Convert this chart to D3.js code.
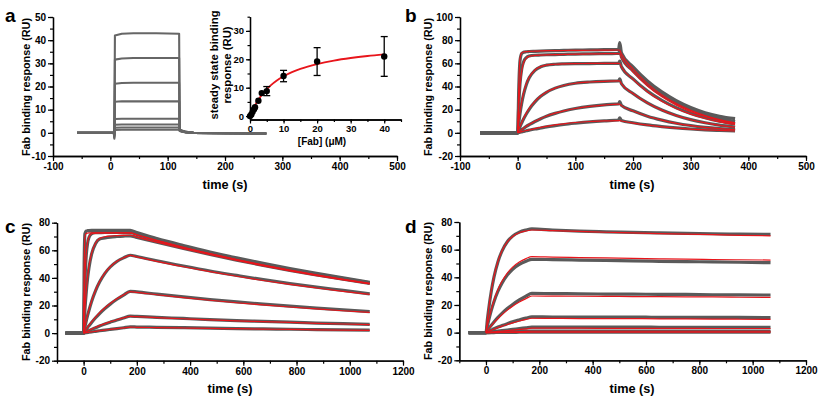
<!DOCTYPE html>
<html>
<head>
<meta charset="utf-8">
<script src="https://cdn.jsdelivr.net/npm/d3@7"></script>
<style>
  body { margin: 0; background: #fff; }
  svg { display: block; font-family: 'Liberation Sans', Arial, sans-serif; }
</style>
</head>
<body>
<svg id="chart" width="823" height="399"></svg>
<script>
'use strict';

// ---- panel a: sensorgrams (time in s, response in RU)
const aTime = [-58, 6, 7, 8, 20, 40, 80, 120, 121, 125, 132, 145, 200, 272];
const aTraces = [
    [0, 0, -2.5, 42, 42.8, 43, 43, 42.8, 1.5, 1, 0.4, 0, -0.2, -0.3],
    [0, 0, -2, 31.6, 32.1, 32.3, 32.3, 32.3, 1.4, 0.9, 0.4, 0, -0.2, -0.3],
    [0, 0, -1.6, 21.2, 21.5, 21.6, 21.6, 21.6, 1.3, 0.9, 0.4, 0, -0.2, -0.3],
    [0, 0, -1.3, 13.4, 13.6, 13.6, 13.6, 13.6, 1.2, 0.8, 0.3, 0, -0.2, -0.3],
    [0, 0, -1, 6, 6.1, 6.1, 6.1, 6.1, 1.1, 0.7, 0.3, 0, -0.2, -0.3],
    [0, 0, -0.8, 3.5, 3.6, 3.6, 3.6, 3.6, 1, 0.6, 0.3, 0, -0.2, -0.3],
    [0, 0, -0.6, 2.2, 2.3, 2.3, 2.3, 2.3, 0.9, 0.6, 0.2, 0, -0.2, -0.3],
    [0, 0, -0.5, 1.2, 1.3, 1.3, 1.3, 1.3, 0.8, 0.5, 0.2, 0, -0.2, -0.3]
];

// inset of a: steady state binding vs [Fab]
const insetConc = [0, 0.4, 0.8, 1.2, 1.5, 2.5, 3.5, 5, 10, 20, 40];
const insetResp = [0, 0.6, 1.5, 2.4, 3.1, 5.4, 8.1, 8.8, 14.1, 19.2, 21];
const insetErr = [0.2, 0.3, 0.3, 0.4, 0.5, 0.4, 0.4, 1.6, 2, 4.9, 7];
const insetFitConc = [0, 1, 2, 3, 4, 5, 6, 8, 10, 12.5, 15, 20, 25, 30, 35, 40];
const insetFitResp = [0, 2.66, 4.84, 6.65, 8.18, 9.5, 10.64, 12.52, 14, 15.47, 16.63, 18.34, 19.56, 20.46, 21.16, 21.72];

// ---- panel b
const bTime = [-65, 0, 2, 4, 7, 10, 15, 20, 30, 40, 50, 65, 80, 100, 125, 150, 175, 177, 180, 200, 225, 250, 275, 300, 325, 350, 377];
const bData = [
    [0, 0, 40, 62, 68.5, 69.5, 70, 70.2, 70.4, 70.6, 70.8, 71, 71.2, 71.4, 71.6, 71.8, 72, 78, 69, 57, 44.8, 35.3, 27.8, 21.9, 17.4, 14.3, 12.2],
    [0, 0, 26, 42, 55, 61, 65, 66.3, 67, 67.2, 67.4, 67.6, 67.8, 68, 68.2, 68.4, 68.5, 71, 65.3, 53.5, 41.8, 32.8, 25.8, 20.2, 15.8, 12.5, 9.8],
    [0, 0, 8.8, 16.3, 25.5, 32.8, 41.6, 47.5, 54, 57, 58.4, 59.2, 59.5, 59.7, 59.8, 59.9, 60, 62, 57, 46.5, 36, 28, 21.7, 16.8, 13, 10, 7.7],
    [0, 0, 2.6, 5.1, 8.5, 11.7, 16.3, 20.3, 26.7, 31.5, 35, 38.6, 40.9, 42.8, 43.9, 44.5, 44.8, 46.5, 42.4, 34, 25.9, 19.7, 15, 11.4, 8.7, 6.6, 5],
    [0, 0, 0.8, 1.6, 2.7, 3.8, 5.5, 7, 9.8, 12.2, 14.3, 16.8, 18.9, 21, 22.9, 24.2, 25, 27, 23.7, 19, 14.4, 11, 8.3, 6.3, 4.8, 3.7, 2.8],
    [0, 0, 0.25, 0.5, 0.85, 1.2, 1.8, 2.3, 3.3, 4.2, 5.1, 6.2, 7.2, 8.3, 9.5, 10.4, 11.1, 13, 10.6, 8.7, 6.8, 5.4, 4.2, 3.3, 2.6, 2.1, 1.7]
];
const bFit = [
    [null, 0, 42, 64, 69, 69.8, 70.1, 70.3, 70.5, 70.7, 70.9, 71, 71.1, 71.2, 71.3, 71.4, 71.5, 71.2, 68, 55.2, 42.5, 32.7, 25.2, 19.4, 14.9, 11.4, 8.6],
    [null, 0, 24, 40, 53.5, 60, 64.5, 66, 66.8, 67.1, 67.3, 67.5, 67.7, 67.9, 68.1, 68.3, 68.4, 68.1, 64.9, 52.6, 40.5, 31.1, 23.9, 18.3, 14.1, 10.8, 8.1],
    [null, 0, 9.5, 17.5, 27, 34, 42.5, 48, 54.3, 57.2, 58.5, 59.2, 59.6, 59.8, 59.9, 60, 60, 59.8, 56.9, 46.1, 35.5, 27.3, 21, 16.1, 12.4, 9.5, 7.2],
    [null, 0, 2.8, 5.4, 9, 12.3, 17, 21, 27.2, 31.8, 35.2, 38.6, 40.9, 42.8, 43.9, 44.5, 44.8, 44.6, 42.3, 33.9, 25.8, 19.6, 14.9, 11.3, 8.6, 6.5, 4.9],
    [null, 0, 0.8, 1.6, 2.7, 3.9, 5.6, 7.2, 10, 12.4, 14.5, 17, 19, 21, 22.8, 24, 24.8, 24.7, 23.5, 18.9, 14.3, 10.9, 8.2, 6.2, 4.7, 3.6, 2.7],
    [null, 0, 0.3, 0.6, 1, 1.4, 2, 2.6, 3.7, 4.7, 5.6, 6.8, 7.8, 8.9, 9.8, 10.3, 10.6, 10.5, 10.2, 8.4, 6.6, 5.2, 4.1, 3.2, 2.6, 2.1, 1.6]
];

// ---- panel c
const cTime = [-68, 0, 2, 5, 10, 15, 20, 30, 45, 60, 80, 100, 125, 150, 175, 200, 275, 375, 475, 575, 675, 775, 875, 975, 1075];
const cData = [
    [0, 0, 50, 72, 74, 74.2, 74.3, 74.4, 74.4, 74.5, 74.5, 74.5, 74.5, 74.5, 74.5, 72.8, 68.5, 63.5, 58.8, 54.5, 50.5, 46.8, 43.3, 40, 36.8],
    [0, 0, 18.9, 38.4, 56.6, 65.2, 69.2, 72, 72.7, 72.8, 72.9, 73, 73, 73, 73, 71.5, 67.5, 62.6, 58, 53.8, 49.8, 46.1, 42.7, 39.5, 36.4],
    [0, 0, 7.4, 17, 29.9, 39.8, 47.2, 57.2, 64.9, 68.2, 69, 69.6, 70, 70.3, 70.5, 69.3, 65.8, 61.3, 57, 52.9, 49.1, 45.5, 42.2, 39, 36],
    [0, 0, 1.9, 4.6, 8.9, 12.8, 16.4, 22.9, 30.8, 37, 43.3, 47.9, 51.9, 54.5, 56.4, 55.5, 52.4, 48.6, 45, 41.8, 38.7, 35.9, 33.3, 30.9, 28.4],
    [0, 0, 0.6, 1.4, 2.7, 4.1, 5.3, 7.7, 11.1, 14.2, 17.8, 21, 24.5, 27.5, 30.3, 29.9, 28.2, 26.2, 24.3, 22.6, 21, 19.5, 18.1, 16.8, 15.6],
    [0, 0, 0.2, 0.5, 0.9, 1.4, 1.8, 2.7, 3.9, 5.1, 6.6, 7.9, 9.5, 10.9, 12.3, 12.1, 11.4, 10.6, 9.8, 9.1, 8.5, 7.9, 7.3, 6.8, 6.3],
    [0, 0, 0.05, 0.15, 0.3, 0.45, 0.6, 0.9, 1.3, 1.7, 2.2, 2.7, 3.3, 3.9, 4.5, 4.4, 4.2, 3.9, 3.6, 3.3, 3, 2.8, 2.5, 2.3, 2.1]
];
const cFit = [
    [null, 0, 45, 70, 72.3, 72.5, 72.6, 72.6, 72.6, 72.6, 72.6, 72.6, 72.6, 72.6, 72.6, 71.2, 67.2, 62.2, 57.6, 53.3, 49.3, 45.6, 42.2, 39, 36],
    [null, 0, 20, 40, 58, 66, 69.8, 72, 72.5, 72.6, 72.6, 72.6, 72.6, 72.6, 72.6, 71.1, 67, 62, 57.5, 53.2, 49.2, 45.5, 42.1, 38.9, 35.9],
    [null, 0, 7.8, 17.8, 31, 41, 48.3, 58, 65.3, 68.5, 69.8, 70.3, 70.6, 70.8, 70.9, 69.6, 65.9, 61.2, 56.8, 52.6, 48.7, 45.1, 41.7, 38.6, 35.6],
    [null, 0, 2, 4.8, 9.2, 13.2, 16.8, 23.3, 31.2, 37.4, 43.6, 48.1, 52, 54.6, 56.3, 55.2, 52, 48.1, 44.5, 41.2, 38.1, 35.3, 32.7, 30.2, 28],
    [null, 0, 0.6, 1.5, 2.9, 4.3, 5.6, 8.1, 11.6, 14.8, 18.4, 21.5, 24.9, 27.7, 30, 29.5, 27.8, 25.7, 23.8, 22, 20.4, 18.9, 17.5, 16.2, 15],
    [null, 0, 0.2, 0.5, 1, 1.5, 2, 2.9, 4.2, 5.4, 6.9, 8.2, 9.7, 11, 12.1, 11.9, 11.2, 10.4, 9.6, 8.9, 8.3, 7.7, 7.1, 6.6, 6.1],
    [null, 0, 0.05, 0.15, 0.3, 0.45, 0.6, 0.9, 1.3, 1.7, 2.2, 2.7, 3.3, 3.8, 4.3, 4.2, 4, 3.7, 3.4, 3.2, 2.9, 2.7, 2.4, 2.2, 2]
];

// ---- panel d
const dTime = [-65, 0, 5, 10, 20, 30, 45, 60, 80, 100, 125, 150, 172, 250, 350, 450, 550, 650, 750, 850, 950, 1067];
const dData = [
    [0, 0, 9, 16.8, 29.9, 40.1, 51.3, 59, 65.7, 69.8, 72.7, 74.2, 75, 74.2, 73.4, 72.9, 72.5, 72.1, 71.8, 71.5, 71.2, 71],
    [0, 0, 4.6, 8.7, 16.1, 22.4, 30, 35.8, 41.6, 45.8, 49.3, 51.6, 53, 52.8, 52.5, 52.2, 51.9, 51.6, 51.4, 51.1, 50.9, 50.6],
    [0, 0, 1.4, 2.8, 5.3, 7.7, 11, 13.9, 17.4, 20.4, 23.7, 26.4, 28.4, 28.2, 28.1, 27.9, 27.8, 27.7, 27.6, 27.4, 27.3, 27.2],
    [0, 0, 0.5, 1, 1.9, 2.8, 4, 5.1, 6.5, 7.8, 9.2, 10.5, 11.4, 11.3, 11.3, 11.2, 11.2, 11.1, 11.1, 11, 11, 10.9],
    [0, 0, 0.12, 0.24, 0.48, 0.72, 1.07, 1.42, 1.88, 2.35, 2.9, 3.5, 4, 4, 4, 4, 4, 3.9, 3.9, 3.9, 3.9, 3.9],
    [0, 0, 0.03, 0.07, 0.14, 0.2, 0.3, 0.4, 0.55, 0.7, 0.85, 1.05, 1.2, 1.2, 1.2, 1.2, 1.1, 1.1, 1.1, 1.1, 1.1, 1.1],
    [0, 0, 0.01, 0.02, 0.05, 0.07, 0.1, 0.13, 0.18, 0.22, 0.27, 0.33, 0.4, 0.4, 0.4, 0.4, 0.4, 0.35, 0.35, 0.35, 0.3, 0.3]
];
const dFit = [
    [null, 0, 9.3, 17.3, 30.5, 40.6, 51.6, 59.2, 65.6, 69.5, 72.2, 73.5, 74.2, 73.8, 73.2, 72.6, 72.1, 71.6, 71.2, 70.8, 70.4, 70],
    [null, 0, 4.8, 9, 16.7, 23.2, 31, 37.1, 43.1, 47.4, 51.1, 53.5, 54.9, 54.6, 54.3, 54, 53.7, 53.4, 53.1, 52.9, 52.7, 52.5],
    [null, 0, 1.3, 2.6, 5, 7.2, 10.2, 13, 16.3, 19.1, 22.1, 24.6, 26.5, 26.4, 26.3, 26.2, 26.1, 26, 25.9, 25.8, 25.6, 25.5],
    [null, 0, 0.45, 0.9, 1.7, 2.5, 3.6, 4.7, 5.9, 7.1, 8.4, 9.5, 10.4, 10.3, 10.2, 10.1, 10.1, 10, 9.9, 9.8, 9.7, 9.6],
    [null, 0, 0.1, 0.2, 0.4, 0.6, 0.85, 1.1, 1.5, 1.85, 2.3, 2.75, 3.2, 3.2, 3.2, 3.1, 3.1, 3.1, 3.1, 3, 3, 3],
    [null, 0, 0.03, 0.06, 0.12, 0.17, 0.25, 0.33, 0.45, 0.55, 0.7, 0.85, 1, 1, 1, 1, 1, 1, 1, 1, 1, 1],
    [null, 0, 0.01, 0.02, 0.04, 0.06, 0.08, 0.1, 0.14, 0.18, 0.22, 0.26, 0.3, 0.3, 0.3, 0.3, 0.3, 0.3, 0.3, 0.3, 0.3, 0.3]
];

// tick labels
const abXTicks = [-100, 0, 100, 200, 300, 400, 500];
const aYTicks = [-10, 0, 10, 20, 30, 40, 50];
const bYTicks = [-20, 0, 20, 40, 60, 80, 100];
const cdXTicks = [0, 200, 400, 600, 800, 1000, 1200];
const cdYTicks = [-20, 0, 20, 40, 60, 80];
const insetXTicks = [0, 10, 20, 30, 40];
const insetYTicks = [0, 10, 20, 30];

const GREY = '#5a5a5a';
const RED = '#e8151b';
const svg = d3.select('#chart');

// plain hyphen for negatives, like the original figure
function plainLabel(d) {
    return String(d);
}

function styleAxis(g, fontSize) {
    g.attr('font-family', null).attr('font-size', fontSize).attr('font-weight', 'bold');
    g.select('.domain').attr('stroke', '#000').attr('stroke-width', 1.3);
    g.selectAll('.tick line').attr('stroke', '#000').attr('stroke-width', 1.2);
    g.selectAll('.tick text').attr('fill', '#000');
}

function drawAxes(x, y, opt) {
    const yBase = y.range()[0];
    const xBase = x.range()[0];
    const fs = opt.fontSize || 10;

    svg.append('g')
        .attr('transform', `translate(0,${yBase})`)
        .call(d3.axisBottom(x).tickValues(opt.xMinor).tickSize(opt.minor || 3).tickSizeOuter(0).tickFormat(''))
        .call(styleAxis, fs);
    svg.append('g')
        .attr('transform', `translate(0,${yBase})`)
        .call(d3.axisBottom(x).tickValues(opt.xTicks).tickSize(opt.major || 5).tickSizeOuter(0).tickPadding(2).tickFormat(plainLabel))
        .call(styleAxis, fs);
    svg.append('g')
        .attr('transform', `translate(${xBase},0)`)
        .call(d3.axisLeft(y).tickValues(opt.yMinor).tickSize(opt.minor || 3).tickSizeOuter(0).tickFormat(''))
        .call(styleAxis, fs);
    svg.append('g')
        .attr('transform', `translate(${xBase},0)`)
        .call(d3.axisLeft(y).tickValues(opt.yTicks).tickSize(opt.major || 5).tickSizeOuter(0).tickPadding(2).tickFormat(plainLabel))
        .call(styleAxis, fs);
}

function drawCurves(x, y, times, series, colour, width, curve) {
    const line = d3.line()
        .defined(function (d) { return d[1] !== null; })
        .x(function (d) { return x(d[0]); })
        .y(function (d) { return y(d[1]); })
        .curve(curve);

    svg.append('g')
        .selectAll('path')
        .data(series)
        .join('path')
        .attr('fill', 'none')
        .attr('stroke', colour)
        .attr('stroke-width', width)
        .attr('stroke-linejoin', 'round')
        .attr('d', function (s) {
            return line(s.map(function (v, i) { return [times[i], v]; }));
        });
}

function drawTitles(p) {
    svg.append('text')
        .attr('x', p.xTitle[0]).attr('y', p.xTitle[1])
        .attr('text-anchor', 'middle')
        .attr('font-size', 12.7).attr('font-weight', 'bold')
        .text('time (s)');
    svg.append('text')
        .attr('transform', `translate(${p.yTitle[0]},${p.yTitle[1]}) rotate(-90)`)
        .attr('text-anchor', 'middle')
        .attr('font-size', 10.8).attr('font-weight', 'bold')
        .text('Fab binding response (RU)');
    svg.append('text')
        .attr('x', p.letter[0]).attr('y', p.letter[1])
        .attr('font-size', 19).attr('font-weight', 'bold')
        .text(p.name);
}

// ---- a
const xA = d3.scaleLinear().domain([-100, 500]).range([53, 397]);
const yA = d3.scaleLinear().domain([-10, 50]).range([156, 17]);
drawAxes(xA, yA, {
    xTicks: abXTicks, xMinor: d3.range(-100, 501, 50),
    yTicks: aYTicks, yMinor: d3.range(-10, 51, 5)
});
drawCurves(xA, yA, aTime, aTraces, '#666', 2.1, d3.curveLinear);
drawTitles({ name: 'a', xTitle: [225, 189], yTitle: [30, 87], letter: [5, 22] });

// inset
const xI = d3.scaleLinear().domain([0, 45]).range([250, 401]);
const yI = d3.scaleLinear().domain([-1.2, 35]).range([119.5, 16.7]);
drawAxes(xI, yI, {
    xTicks: insetXTicks, xMinor: d3.range(0, 46, 5),
    yTicks: insetYTicks, yMinor: d3.range(0, 36, 5),
    fontSize: 9.5, major: 4, minor: 2.5
});
drawCurves(xI, yI, insetFitConc, [insetFitResp], RED, 1.8, d3.curveMonotoneX);

const insetPts = insetConc.map(function (c, i) {
    return { c: c, r: insetResp[i], e: insetErr[i] };
});
const bars = svg.append('g').attr('stroke', '#000').attr('stroke-width', 1.3);
bars.selectAll('line.err')
    .data(insetPts)
    .join('line')
    .attr('class', 'err')
    .attr('x1', function (d) { return xI(d.c); })
    .attr('x2', function (d) { return xI(d.c); })
    .attr('y1', function (d) { return yI(d.r - d.e); })
    .attr('y2', function (d) { return yI(d.r + d.e); });
['lo', 'hi'].forEach(function (end) {
    bars.selectAll('line.cap-' + end)
        .data(insetPts.filter(function (d) { return d.e > 1; }))
        .join('line')
        .attr('class', 'cap-' + end)
        .attr('x1', function (d) { return xI(d.c) - 3.5; })
        .attr('x2', function (d) { return xI(d.c) + 3.5; })
        .attr('y1', function (d) { return yI(end === 'lo' ? d.r - d.e : d.r + d.e); })
        .attr('y2', function (d) { return yI(end === 'lo' ? d.r - d.e : d.r + d.e); });
});
svg.append('g')
    .selectAll('circle')
    .data(insetPts)
    .join('circle')
    .attr('cx', function (d) { return xI(d.c); })
    .attr('cy', function (d) { return yI(d.r); })
    .attr('r', 3.2)
    .attr('fill', '#000');

svg.append('text')
    .attr('x', 322).attr('y', 145)
    .attr('text-anchor', 'middle')
    .attr('font-size', 10).attr('font-weight', 'bold')
    .text('[Fab] (\u03bcM)');
const insetLab = svg.append('text')
    .attr('transform', 'translate(218,65) rotate(-90)')
    .attr('text-anchor', 'middle')
    .attr('font-size', 11.3).attr('font-weight', 'bold');
insetLab.append('tspan').attr('x', 0).attr('dy', 0).text('steady state binding');
insetLab.append('tspan').attr('x', 0).attr('dy', 13).text('response (RU)');

// ---- b
const xB = d3.scaleLinear().domain([-100, 500]).range([460, 806]);
const yB = d3.scaleLinear().domain([-20, 100]).range([156, 17]);
drawAxes(xB, yB, {
    xTicks: abXTicks, xMinor: d3.range(-100, 501, 50),
    yTicks: bYTicks, yMinor: d3.range(-20, 101, 10)
});
drawCurves(xB, yB, bTime, bData, GREY, 3.2, d3.curveMonotoneX);
drawCurves(xB, yB, bTime, bFit, RED, 1.2, d3.curveMonotoneX);
drawTitles({ name: 'b', xTitle: [632, 189], yTitle: [432, 87], letter: [405, 22] });

// ---- c
const xC = d3.scaleLinear().domain([-100, 1200]).range([57, 403]);
const yC = d3.scaleLinear().domain([-20, 80]).range([360.7, 222.7]);
drawAxes(xC, yC, {
    xTicks: cdXTicks, xMinor: d3.range(-100, 1201, 100),
    yTicks: cdYTicks, yMinor: d3.range(-20, 81, 10)
});
drawCurves(xC, yC, cTime, cData, GREY, 3.2, d3.curveMonotoneX);
drawCurves(xC, yC, cTime, cFit, RED, 1.2, d3.curveMonotoneX);
drawTitles({ name: 'c', xTitle: [230, 393], yTitle: [30, 292], letter: [5, 233] });

// ---- d
const xD = d3.scaleLinear().domain([-100, 1200]).range([459.3, 806]);
const yD = d3.scaleLinear().domain([-20, 80]).range([360.3, 222]);
drawAxes(xD, yD, {
    xTicks: cdXTicks, xMinor: d3.range(-100, 1201, 100),
    yTicks: cdYTicks, yMinor: d3.range(-20, 81, 10)
});
drawCurves(xD, yD, dTime, dData, GREY, 3.2, d3.curveMonotoneX);
drawCurves(xD, yD, dTime, dFit, RED, 1.2, d3.curveMonotoneX);
drawTitles({ name: 'd', xTitle: [632, 393], yTitle: [432, 291], letter: [405, 233] });
</script>
</body>
</html>
